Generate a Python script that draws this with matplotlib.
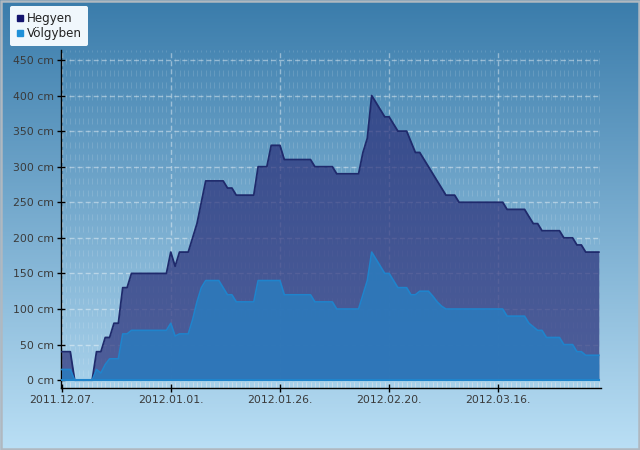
import numpy as np
import pandas as pd
import matplotlib
matplotlib.use('Agg')
import matplotlib.pyplot as plt
import matplotlib.dates as mdates
from matplotlib.lines import Line2D
from matplotlib.patches import Rectangle

# napi hóvastagság (cm), 2011.12.07-től
hegyen = [40, 40, 40, 0, 0, 0, 0, 0, 40, 40,
          60, 60, 80, 80, 130, 130, 150, 150, 150, 150,
          150, 150, 150, 150, 150, 180, 160, 180, 180, 180,
          200, 220, 250, 280, 280, 280, 280, 280, 270, 270,
          260, 260, 260, 260, 260, 300, 300, 300, 330, 330,
          330, 310, 310, 310, 310, 310, 310, 310, 300, 300,
          300, 300, 300, 290, 290, 290, 290, 290, 290, 320,
          340, 400, 390, 380, 370, 370, 360, 350, 350, 350,
          335, 320, 320, 310, 300, 290, 280, 270, 260, 260,
          260, 250, 250, 250, 250, 250, 250, 250, 250, 250,
          250, 250, 240, 240, 240, 240, 240, 230, 220, 220,
          210, 210, 210, 210, 210, 200, 200, 200, 190, 190,
          180, 180, 180, 180]
volgyben = [15, 15, 15, 0, 0, 0, 0, 0, 15, 10,
            22, 30, 30, 30, 65, 65, 70, 70, 70, 70,
            70, 70, 70, 70, 70, 80, 62, 65, 65, 65,
            85, 110, 130, 140, 140, 140, 140, 130, 120, 120,
            110, 110, 110, 110, 110, 140, 140, 140, 140, 140,
            140, 120, 120, 120, 120, 120, 120, 120, 110, 110,
            110, 110, 110, 100, 100, 100, 100, 100, 100, 120,
            140, 180, 170, 160, 150, 150, 140, 130, 130, 130,
            120, 120, 125, 125, 125, 118, 110, 104, 100, 100,
            100, 100, 100, 100, 100, 100, 100, 100, 100, 100,
            100, 100, 90, 90, 90, 90, 90, 80, 75, 70,
            70, 60, 60, 60, 60, 50, 50, 50, 40, 40,
            35, 35, 35, 35]
start = '2011-12-07'
tick_dates = ['2011-12-07', '2012-01-01', '2012-01-26', '2012-02-20', '2012-03-16']
y_ticks = [0, 50, 100, 150, 200, 250, 300, 350, 400, 450]

dates = pd.date_range(start, periods=len(hegyen), freq='D')

fig = plt.figure(figsize=(6.4, 4.5), dpi=100)

# háttér színátmenet
bg = fig.add_axes([0, 0, 1, 1], zorder=0)
grad = np.linspace(0, 1, 256).reshape(-1, 1)
top = np.array([0x3a, 0x7c, 0xab]) / 255
bot = np.array([0xba, 0xdf, 0xf5]) / 255
img = top + grad[..., None] * (bot - top)
bg.imshow(img, aspect='auto', extent=[0, 1, 0, 1])
bg.set_xlim(0, 1)
bg.set_ylim(0, 1)
bg.axis('off')
bg.add_patch(Rectangle((0.001, 0.002), 0.997, 0.995, fill=False, ec='#b0b8c0', lw=1.8,
                       transform=bg.transAxes))

ax = fig.add_axes([60.7 / 640, 1 - 388 / 450, (601 - 60.7) / 640, (388 - 50) / 450], zorder=1)
ax.patch.set_alpha(0)

x = mdates.date2num(dates)
ax.fill_between(x, 0, hegyen, color='#292e78', alpha=0.7, lw=0, zorder=2)
ax.plot(x, hegyen, color='#1f2a6c', lw=1.3, zorder=3)
ax.fill_between(x, 0, volgyben, color='#2d79bb', alpha=0.92, lw=0, zorder=4)
ax.plot(x, volgyben, color='#1f84cc', lw=1.2, zorder=5)
ax.plot([x[0], x[-1]], [0, 0], color='#1f84cc', lw=1.5, zorder=5)

ax.set_xlim(x[0] - 0.2, x[0] + 123.5)
ax.set_ylim(-11, 464)

tx = mdates.date2num(pd.to_datetime(tick_dates))
ax.set_xticks(tx)
ax.set_xticklabels([pd.Timestamp(t).strftime('%Y.%m.%d.') for t in tick_dates])
ax.set_xticks(x, minor=True)
ax.set_yticks(y_ticks)
ax.set_yticklabels([f'{v} cm' for v in y_ticks])

for s in ['top', 'right']:
    ax.spines[s].set_visible(False)
for s in ['left', 'bottom']:
    ax.spines[s].set_color('black')
    ax.spines[s].set_linewidth(1)

ax.tick_params(axis='both', which='major', direction='inout', length=6, width=1,
               colors='black', labelcolor='#3a3a3a', labelsize=7.8)
ax.tick_params(axis='x', which='minor', direction='in', length=4, width=0.7, color='#c8dcea')
ax.tick_params(axis='x', which='major', pad=2)
ax.tick_params(axis='y', which='major', pad=2)

ax.grid(True, which='major', color='white', alpha=0.42, lw=1, linestyle=(0, (3.6, 2.2)), zorder=1)
ax.grid(True, which='minor', axis='x', color='white', alpha=0.13, lw=0.72, linestyle=(0, (6, 6)), zorder=1)

handles = [Line2D([], [], ls='', marker='s', ms=5, color='#14146e', mec='#14146e'),
           Line2D([], [], ls='', marker='s', ms=5, color='#1e90d8', mec='#1e90d8')]
leg = fig.legend(handles, ['Hegyen', 'Völgyben'], loc='upper left',
                 bbox_to_anchor=(10 / 640, 1 - 6 / 450), borderaxespad=0,
                 fontsize=8.6, frameon=True, fancybox=True, facecolor='#f7fcff',
                 edgecolor='none', framealpha=0.97, handlelength=0.6, handletextpad=0.35,
                 labelspacing=0.2, borderpad=0.5)
for t in leg.get_texts():
    t.set_color('#222222')

fig.savefig('out.png', dpi=100)
